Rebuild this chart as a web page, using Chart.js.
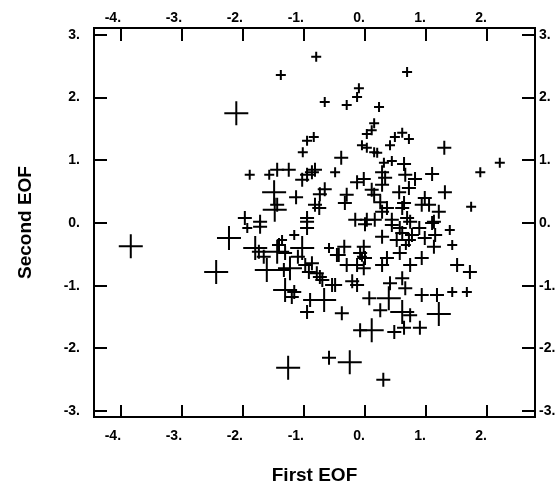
<!DOCTYPE html>
<html>
<head>
<meta charset="utf-8">
<script src="https://cdn.jsdelivr.net/npm/chart.js@4/dist/chart.umd.min.js"></script>
<style>
  body { margin: 0; background: #fff; }
  canvas { display: block; }
</style>
</head>
<body>
<canvas id="eofChart" width="555" height="487"></canvas>
<script>
// EOF scores
const firstEOF = [
  -3.84, -2.44, -2.23, -2.11, -1.26, -0.25, -0.59, 0.30, -0.80, 0.69,
  -0.10, -0.13, -0.66, -0.30, 0.23, -1.38, -0.84, -0.95, -1.02, -1.89,
  -1.57, -1.44, -1.25, -0.95, -0.87, -1.03, -0.82, -0.49, -0.39, -1.49,
  -1.13, -0.66, -0.74, -1.44, -1.48, -0.82, -0.75, -1.97, -1.72, -0.95,
  0.15, 0.11, 0.03, -0.05, 0.03, 0.15, 0.20, 0.61, 0.49, 0.72,
  0.41, 1.30, 2.21, 1.89, 1.74, 1.31, 1.10, 0.82, 0.64, 0.66,
  0.44, 0.31, 0.28, 0.33, 0.28, -0.02, -0.13, 0.11, 0.15, -0.30,
  -0.33, 0.25, 0.36, 0.28, 0.72, 0.56, 0.98, 1.05, 0.93, 1.21,
  0.64, 0.61, -0.16, 0.03, 0.16, 0.44, 0.69, 0.74, 1.10, 0.00,
  0.44, 0.57, 0.89, 1.13, 1.39, 0.28, 0.61, 0.77, 0.72, 0.98,
  1.15, 1.13, 1.43, -0.34, -0.02, -0.08, -0.43, 0.00, -0.30, -0.13,
  -0.02, 0.36, 0.28, 0.57, 0.74, 0.93, 1.51, 1.72, -0.49, -0.13,
  -0.21, 0.07, 0.41, 0.61, 0.66, 0.93, 1.18, 1.43, 1.67, -0.38,
  0.25, 0.39, 0.61, 0.74, 1.21, -0.08, 0.11, 0.48, 0.64, 0.90,
  -1.93, -1.72, -0.95, -0.95, -1.80, -1.74, -1.41, -1.36, -1.44, -1.31,
  -1.03, -0.59, -0.46, -1.61, -1.33, -1.23, -0.98, -0.92, -0.79, -0.74,
  -0.54, -1.31, -1.16, -1.20, -0.90, -0.67, -0.95, -0.87, -0.70, -1.10,
  0.52, 0.67, -0.05, -1.66, -1.16
];
const secondEOF = [
  -0.37, -0.78, -0.24, 1.75, -2.31, -2.22, -2.15, -2.50, 2.65, 2.41,
  2.15, 2.01, 1.93, 1.88, 1.85, 2.36, 1.37, 1.31, 1.13, 0.77,
  0.77, 0.85, 0.85, 0.77, 0.81, 0.69, 0.85, 0.81, 1.04, 0.49,
  0.41, 0.54, 0.46, 0.29, 0.21, 0.29, 0.24, 0.08, 0.02, 0.08,
  1.59, 1.48, 1.42, 1.24, 1.20, 1.13, 1.12, 1.44, 1.37, 1.34,
  1.24, 1.20, 0.96, 0.81, 0.26, 0.49, 0.78, 0.70, 0.94, 0.77,
  0.99, 0.96, 0.81, 0.72, 0.61, 0.70, 0.65, 0.53, 0.45, 0.45,
  0.32, 0.33, 0.24, 0.18, 0.56, 0.49, 0.40, 0.29, 0.29, 0.18,
  0.32, 0.24, 0.05, 0.05, 0.05, 0.05, 0.08, 0.02, 0.00, -0.02,
  -0.03, -0.08, -0.08, 0.02, -0.11, -0.22, -0.16, -0.19, -0.27, -0.24,
  -0.19, -0.38, -0.35, -0.38, -0.38, -0.48, -0.51, -0.56, -0.67, -0.67,
  -0.72, -0.56, -0.67, -0.48, -0.67, -0.56, -0.67, -0.78, -0.99, -0.99,
  -0.93, -1.20, -0.96, -0.88, -1.04, -1.15, -1.15, -1.10, -1.10, -1.44,
  -1.39, -1.20, -1.42, -1.47, -1.45, -1.71, -1.71, -1.74, -1.67, -1.67,
  -0.08, -0.06, 0.02, -0.08, -0.40, -0.46, -0.35, -0.27, -0.46, -0.48,
  -0.40, -0.40, -0.51, -0.75, -0.75, -0.72, -0.67, -0.78, -0.80, -0.86,
  -0.99, -1.07, -1.10, -1.18, -1.23, -1.23, -1.42, -0.64, -0.91, -0.54,
  -0.27, -0.35, -0.54, -0.54, -0.19
];
// marker class (1 small, 2 medium, 3 large)
const magnitude = [
  3, 3, 3, 3, 3, 3, 2, 2, 1, 1,
  1, 1, 1, 1, 1, 1, 1, 1, 1, 1,
  1, 2, 2, 2, 2, 2, 2, 1, 2, 3,
  2, 2, 2, 2, 3, 2, 2, 2, 2, 2,
  1, 1, 1, 1, 1, 1, 1, 1, 1, 1,
  1, 2, 1, 1, 1, 2, 2, 2, 2, 2,
  1, 1, 2, 2, 2, 2, 2, 2, 2, 2,
  2, 2, 2, 2, 2, 2, 2, 2, 2, 2,
  2, 2, 2, 2, 2, 2, 2, 2, 2, 2,
  2, 2, 2, 2, 1, 2, 2, 2, 2, 2,
  2, 2, 1, 2, 2, 2, 2, 2, 2, 2,
  2, 2, 2, 2, 2, 2, 2, 2, 2, 2,
  2, 2, 2, 2, 2, 2, 2, 1, 1, 2,
  2, 3, 3, 2, 3, 2, 3, 2, 2, 2,
  1, 2, 2, 2, 3, 2, 2, 1, 3, 2,
  3, 1, 2, 3, 2, 3, 2, 2, 2, 2,
  2, 3, 2, 2, 2, 3, 2, 2, 2, 2,
  2, 1, 1, 2, 1
];

const xTicks = [-4, -3, -2, -1, 0, 1, 2];
const yTicks = [-3, -2, -1, 0, 1, 2, 3];

const markerSize = { 1: 5, 2: 7, 3: 12 };
const points = firstEOF.map((x, i) => ({ x: x, y: secondEOF[i] }));
const radii = magnitude.map(m => markerSize[m]);

const tickFont = { family: "'Liberation Sans', Arial, sans-serif", size: 14, weight: 'bold' };
const titleFont = { family: "'Liberation Sans', Arial, sans-serif", size: 19, weight: 'bold' };
const label = v => v + '.';

function fixTicks(values) {
  return scale => { scale.ticks = values.map(v => ({ value: v })); };
}

// inward tick marks on all four sides
const innerTicks = {
  id: 'innerTicks',
  afterDraw(chart) {
    const { ctx, chartArea: a, scales } = chart;
    ctx.save();
    ctx.strokeStyle = '#000';
    ctx.lineWidth = 2;
    ctx.beginPath();
    xTicks.forEach(v => {
      const px = Math.round(scales.x.getPixelForValue(v));
      ctx.moveTo(px, a.bottom); ctx.lineTo(px, a.bottom - 12);
      ctx.moveTo(px, a.top); ctx.lineTo(px, a.top + 13);
    });
    yTicks.forEach(v => {
      const py = Math.round(scales.y.getPixelForValue(v));
      ctx.moveTo(a.left, py); ctx.lineTo(a.left + 13, py);
      ctx.moveTo(a.right, py); ctx.lineTo(a.right - 13, py);
    });
    ctx.stroke();
    ctx.restore();
  }
};

const axisBase = {
  type: 'linear',
  grid: { display: false, drawTicks: false, tickLength: 0 },
  border: { display: true, color: '#000', width: 2 }
};

new Chart(document.getElementById('eofChart'), {
  type: 'scatter',
  data: {
    datasets: [{
      data: points,
      pointStyle: 'cross',
      pointRadius: radii,
      pointHoverRadius: radii,
      borderColor: '#000',
      backgroundColor: '#000',
      borderWidth: 2
    }]
  },
  options: {
    responsive: false,
    animation: false,
    events: [],
    layout: { padding: 0 },
    plugins: { legend: { display: false }, tooltip: { enabled: false } },
    scales: {
      x: Object.assign({}, axisBase, {
        position: 'bottom', min: -4.443, max: 2.787,
        afterBuildTicks: fixTicks(xTicks),
        afterFit: s => { s.height = 70; },
        ticks: { callback: label, align: 'end', padding: 11, color: '#000', font: tickFont, maxRotation: 0 },
        title: { display: true, text: 'First EOF', color: '#000', font: titleFont, padding: { top: 0, bottom: 0 } }
      }),
      x2: Object.assign({}, axisBase, {
        position: 'top', min: -4.443, max: 2.787,
        afterBuildTicks: fixTicks(xTicks),
        afterFit: s => { s.height = 28; },
        ticks: { callback: label, align: 'end', padding: 1, color: '#000', font: tickFont, maxRotation: 0 }
      }),
      y: Object.assign({}, axisBase, {
        position: 'left', min: -3.094, max: 3.11,
        afterBuildTicks: fixTicks(yTicks),
        afterFit: s => { s.width = 94; },
        ticks: { callback: label, padding: 14, color: '#000', font: tickFont },
        title: { display: true, text: 'Second EOF', color: '#000', font: titleFont, padding: { top: 14, bottom: 0 } }
      }),
      y2: Object.assign({}, axisBase, {
        position: 'right', min: -3.094, max: 3.11,
        afterBuildTicks: fixTicks(yTicks),
        afterFit: s => { s.width = 20; },
        ticks: { callback: label, padding: 4, color: '#000', font: tickFont }
      })
    }
  },
  plugins: [innerTicks]
});
</script>
</body>
</html>
